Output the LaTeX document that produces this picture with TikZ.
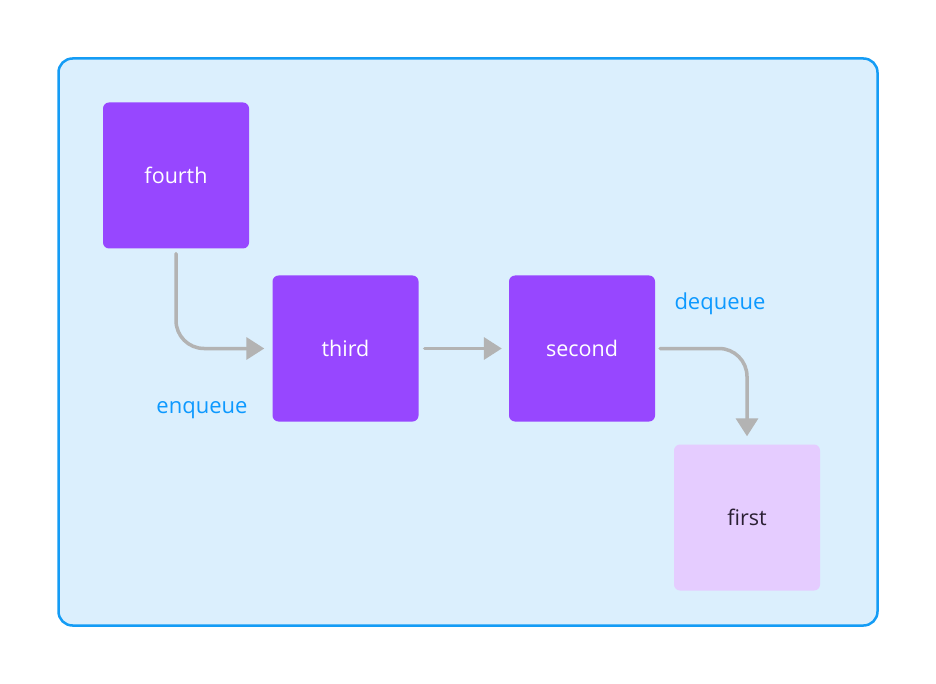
\documentclass[tikz,border=0pt]{standalone}
\usepackage{fontspec}
\setmainfont{Open Sans}
\usetikzlibrary{arrows.meta}
\definecolor{framefill}{HTML}{DBEFFD}
\definecolor{frameline}{HTML}{149CF5}
\definecolor{boxpurple}{HTML}{9747FF}
\definecolor{boxlight}{HTML}{E5CCFF}
\definecolor{arrowgray}{HTML}{B3B3B3}
\definecolor{labelblue}{HTML}{0D99FF}
\definecolor{darktext}{HTML}{2A1F33}
\tikzset{
  stackbox/.style={rectangle, rounded corners=6pt, minimum width=146pt, minimum height=146pt, inner sep=0pt, fill=boxpurple, text=white, font=\fontsize{21.5}{26}\selectfont},
  lightbox/.style={stackbox, fill=boxlight, text=darktext},
  flow/.style={draw=arrowgray, line width=3.5pt, line cap=round, -{Triangle[length=18pt,width=22pt]}, rounded corners=28pt},
  oplabel/.style={text=labelblue, font=\fontsize{22}{26}\selectfont, inner sep=0pt}
}
\begin{document}
\begin{tikzpicture}[x=1pt,y=-1pt]
\useasboundingbox (0,0) rectangle (936,684);
\node[draw=frameline, fill=framefill, line width=2.5pt, rounded corners=14pt, minimum width=819pt, minimum height=567pt, inner sep=0pt] (frame) at (468,342) {};
\node[stackbox] (fourth) at (176,175.5) {fourth};
\node[stackbox] (third) at (345.5,348.5) {third};
\node[stackbox] (second) at (582,348.5) {second};
\node[lightbox] (first) at (747,517.5) {first};
\draw[flow, shorten <=5pt, shorten >=8pt] (fourth.south) |- (third.west);
\draw[flow, shorten <=6pt, shorten >=7pt] (third.east) -- (second.west);
\draw[flow, shorten <=5pt, shorten >=8pt] (second.east) -| (first.north);
\node[oplabel] (enq) at (202,410) {enqueue};
\node[oplabel] (deq) at (720,304) {dequeue};
\end{tikzpicture}
\end{document}
